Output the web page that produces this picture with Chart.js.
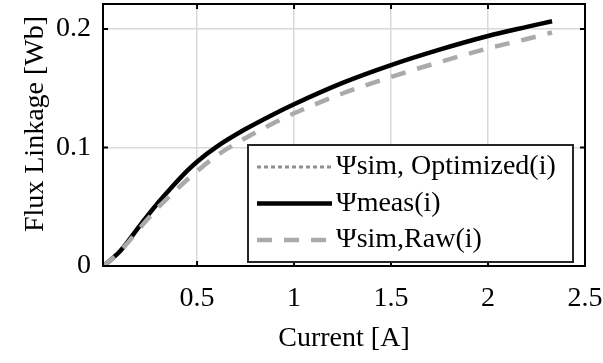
<!DOCTYPE html>
<html>
<head>
<meta charset="utf-8">
<script src="https://cdn.jsdelivr.net/npm/chart.js@4"></script>
<style>
  html, body { margin: 0; padding: 0; background: #fff; }
  #wrap { width: 603px; height: 363px; }
</style>
</head>
<body>
<div id="wrap"><canvas id="flux"></canvas></div>
<script>
/* Flux linkage vs current — measured vs simulated */

const CURRENT = [0.015, 0.05, 0.1, 0.15, 0.2, 0.25, 0.3, 0.375, 0.45, 0.5, 0.6, 0.75, 0.9, 1.0, 1.25, 1.5, 1.75, 2.0, 2.2, 2.33];
const PSI_OPT = [0, 0.0045, 0.012, 0.022, 0.033, 0.0435, 0.0535, 0.0675, 0.0805, 0.088, 0.1005, 0.1155, 0.1285, 0.1365, 0.1545, 0.1695, 0.1825, 0.194, 0.2017, 0.2065];
const PSI_MEAS = [0, 0.0045, 0.012, 0.022, 0.033, 0.0435, 0.0535, 0.0675, 0.0805, 0.088, 0.1005, 0.1155, 0.1285, 0.1365, 0.1545, 0.1695, 0.1825, 0.194, 0.2017, 0.2065];
const PSI_RAW = [0, 0.0045, 0.012, 0.021, 0.031, 0.0405, 0.0495, 0.0615, 0.073, 0.080, 0.093, 0.108, 0.121, 0.1288, 0.1455, 0.1595, 0.172, 0.1835, 0.1915, 0.197];

const X_TICKS = [0.5, 1, 1.5, 2, 2.5];
const Y_TICKS = [0, 0.1, 0.2];
const LABELS = ['\u03A8sim, Optimized(i)', '\u03A8meas(i)', '\u03A8sim,Raw(i)'];

const FONT = '"Liberation Serif", "Times New Roman", serif';

function pts(ys) {
  return CURRENT.map((x, i) => ({ x, y: ys[i] }));
}

const STYLES = [
  { color: '#8f8f8f', width: 3, dash: [4, 3] },
  { color: '#000000', width: 4.5, dash: [] },
  { color: '#aaaaaa', width: 4.5, dash: [15, 12] },
];

/* ── box, inward ticks, legend, y title ── */
const matlabBox = {
  id: 'matlabBox',
  afterDatasetsDraw(chart) {
    const { ctx, chartArea: a, scales: { x, y } } = chart;
    ctx.save();
    ctx.strokeStyle = '#000';
    ctx.lineWidth = 2;
    ctx.strokeRect(a.left, a.top, a.right - a.left, a.bottom - a.top);
    const tl = 5;
    ctx.beginPath();
    X_TICKS.forEach(v => {
      const px = x.getPixelForValue(v);
      ctx.moveTo(px, a.bottom); ctx.lineTo(px, a.bottom - tl);
      ctx.moveTo(px, a.top); ctx.lineTo(px, a.top + tl);
    });
    Y_TICKS.forEach(v => {
      const py = y.getPixelForValue(v);
      ctx.moveTo(a.left, py); ctx.lineTo(a.left + tl, py);
      ctx.moveTo(a.right, py); ctx.lineTo(a.right - tl, py);
    });
    ctx.stroke();

    // legend
    ctx.font = '28px ' + FONT;
    const lineLen = 75, padL = 9, gap = 4, rowH = 36.5;
    const w = 325, h = 117;
    const bx = a.right - 12 - w, by = a.bottom - 4 - h;
    ctx.fillStyle = '#fff';
    ctx.fillRect(bx, by, w, h);
    ctx.strokeStyle = '#262626';
    ctx.lineWidth = 2;
    ctx.strokeRect(bx, by, w, h);
    LABELS.forEach((t, i) => {
      const s = STYLES[i];
      const cy = by + 22 + i * rowH;
      ctx.beginPath();
      ctx.setLineDash(s.dash);
      ctx.strokeStyle = s.color;
      ctx.lineWidth = s.width;
      ctx.moveTo(bx + padL, cy);
      ctx.lineTo(bx + padL + lineLen, cy);
      ctx.stroke();
      ctx.setLineDash([]);
      ctx.fillStyle = '#000';
      ctx.textBaseline = 'middle';
      ctx.textAlign = 'left';
      ctx.fillText(t, bx + padL + lineLen + gap, cy);
    });

    // y title
    ctx.translate(36, 124);
    ctx.rotate(-Math.PI / 2);
    ctx.font = '28px ' + FONT;
    ctx.textAlign = 'center';
    ctx.textBaseline = 'middle';
    ctx.fillText('Flux Linkage [Wb]', 0, 0);
    ctx.restore();
  }
};

new Chart(document.getElementById('flux'), {
  type: 'line',
  data: {
    datasets: [
      { label: LABELS[0], data: pts(PSI_OPT), borderColor: STYLES[0].color, borderWidth: STYLES[0].width, borderDash: STYLES[0].dash, order: 2 },
      { label: LABELS[1], data: pts(PSI_MEAS), borderColor: STYLES[1].color, borderWidth: STYLES[1].width, order: 1 },
      { label: LABELS[2], data: pts(PSI_RAW), borderColor: STYLES[2].color, borderWidth: STYLES[2].width, borderDash: STYLES[2].dash, order: 0 },
    ]
  },
  options: {
    responsive: true,
    maintainAspectRatio: false,
    animation: false,
    layout: { padding: { top: 4, right: 18, left: 0, bottom: 0 } },
    elements: {
      point: { radius: 0 },
      line: { cubicInterpolationMode: 'monotone', fill: false, borderCapStyle: 'butt', borderJoinStyle: 'round' }
    },
    plugins: { legend: { display: false }, tooltip: { enabled: false } },
    scales: {
      x: {
        type: 'linear',
        min: 0.015,
        max: 2.5,
        afterBuildTicks: s => { s.ticks = X_TICKS.map(v => ({ value: v })); },
        afterFit: s => { s.height = 97; s.paddingLeft = 0; s.paddingRight = 0; },
        border: { display: false },
        grid: { color: '#d9d9d9', lineWidth: 1.5, drawTicks: false },
        ticks: { color: '#000', padding: 16, maxRotation: 0, font: { family: FONT, size: 28 }, callback: v => String(v) },
        title: { display: true, text: 'Current [A]', color: '#000', padding: { top: 0, bottom: 8 }, font: { family: FONT, size: 28 } }
      },
      y: {
        min: 0,
        max: 0.221,
        afterBuildTicks: s => { s.ticks = Y_TICKS.map(v => ({ value: v })); },
        afterFit: s => { s.width = 103; s.paddingTop = 0; s.paddingBottom = 0; },
        border: { display: false },
        grid: { color: '#d9d9d9', lineWidth: 1.5, drawTicks: false },
        ticks: { color: '#000', padding: 12, font: { family: FONT, size: 28 }, callback: v => String(v) }
      }
    }
  },
  plugins: [matlabBox]
});
</script>
</body>
</html>
